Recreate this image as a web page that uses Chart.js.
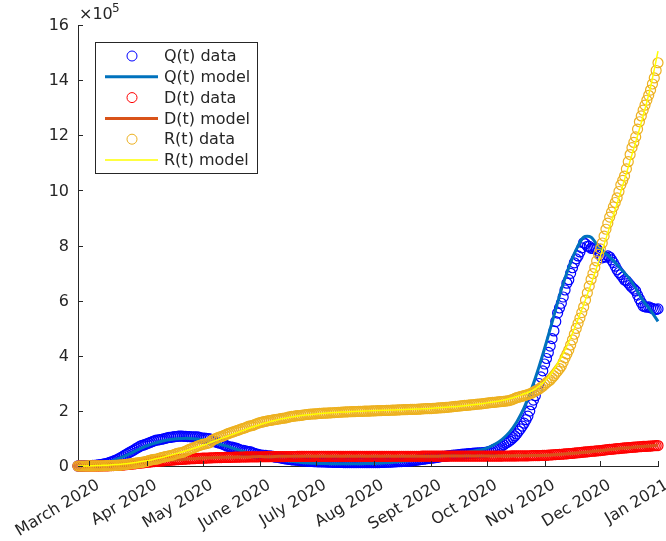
<!DOCTYPE html>
<html>
<head>
<meta charset="utf-8">
<title>Q(t), D(t), R(t) data and model</title>
<script src="https://cdn.jsdelivr.net/npm/chart.js@4.4.1/dist/chart.umd.min.js"></script>
<style>
  html, body { margin: 0; padding: 0; background: #fff; }
  canvas { display: block; }
</style>
</head>
<body>
<canvas id="chart" width="666" height="541"></canvas>
<script>
// x values are days counted from 24 Feb 2020, y values in units of 1e5
// data is daily, model curves are read every 4 days
const dataStep = 1;
const modelStep = 4;

const monthDays = [6, 37, 67, 98, 128, 159, 190, 220, 251, 281, 312];
const monthLabels = ["March 2020", "Apr 2020", "May 2020", "June 2020", "July 2020",
    "Aug 2020", "Sept 2020", "Oct 2020", "Nov 2020", "Dec 2020", "Jan 2021"];
const yTicks = [0, 2, 4, 6, 8, 10, 12, 14, 16];

const qData = [
    0.002, 0.003, 0.004, 0.006, 0.009, 0.010, 0.016, 0.018, 0.023, 0.027,
    0.035, 0.039, 0.051, 0.064, 0.080, 0.085, 0.105, 0.128, 0.147, 0.178,
    0.206, 0.231, 0.267, 0.301, 0.339, 0.385, 0.425, 0.466, 0.504, 0.540,
    0.575, 0.620, 0.661, 0.701, 0.739, 0.755, 0.777, 0.806, 0.832, 0.858,
    0.883, 0.912, 0.937, 0.944, 0.960, 0.971, 0.985, 1.003, 1.023, 1.036,
    1.042, 1.054, 1.063, 1.070, 1.081, 1.083, 1.082, 1.077, 1.075, 1.068,
    1.067, 1.058, 1.061, 1.058, 1.055, 1.047, 1.017, 1.009, 1.008, 1.002,
    0.991, 0.985, 0.911, 0.896, 0.873, 0.848, 0.833, 0.825, 0.787, 0.764,
    0.727, 0.702, 0.689, 0.684, 0.663, 0.651, 0.620, 0.593, 0.572, 0.566,
    0.553, 0.529, 0.523, 0.510, 0.479, 0.462, 0.431, 0.421, 0.397, 0.399,
    0.390, 0.384, 0.360, 0.370, 0.359, 0.347, 0.320, 0.317, 0.313, 0.290,
    0.280, 0.263, 0.256, 0.246, 0.236, 0.222, 0.217, 0.215, 0.210, 0.196,
    0.189, 0.187, 0.184, 0.176, 0.170, 0.167, 0.164, 0.156, 0.155, 0.153,
    0.151, 0.149, 0.146, 0.146, 0.144, 0.140, 0.137, 0.135, 0.133, 0.132,
    0.130, 0.129, 0.127, 0.126, 0.125, 0.125, 0.125, 0.124, 0.122, 0.122,
    0.122, 0.123, 0.124, 0.126, 0.124, 0.123, 0.124, 0.125, 0.124, 0.124,
    0.126, 0.126, 0.126, 0.129, 0.131, 0.133, 0.136, 0.138, 0.141, 0.144,
    0.149, 0.151, 0.155, 0.159, 0.160, 0.167, 0.170, 0.175, 0.180, 0.184,
    0.191, 0.197, 0.211, 0.219, 0.231, 0.240, 0.247, 0.258, 0.268, 0.275,
    0.282, 0.290, 0.302, 0.311, 0.322, 0.335, 0.346, 0.352, 0.358, 0.368,
    0.376, 0.387, 0.397, 0.400, 0.404, 0.412, 0.419, 0.428, 0.435, 0.441,
    0.446, 0.453, 0.460, 0.466, 0.470, 0.474, 0.477, 0.481, 0.487, 0.494,
    0.503, 0.520, 0.543, 0.573, 0.609, 0.630, 0.656, 0.689, 0.721, 0.768,
    0.828, 0.862, 0.905, 0.960, 1.026, 1.090, 1.166, 1.262, 1.349, 1.447,
    1.553, 1.680, 1.808, 1.993, 2.222, 2.390, 2.550, 2.760, 2.993, 3.230,
    3.450, 3.700, 3.900, 4.120, 4.350, 4.620, 4.900, 5.240, 5.550, 5.733,
    5.904, 6.131, 6.385, 6.632, 6.759, 6.991, 7.193, 7.373, 7.514, 7.620,
    7.767, 7.914, 8.100, 8.059, 7.972, 7.968, 7.897, 7.891, 7.909, 7.886,
    7.800, 7.650, 7.550, 7.600, 7.580, 7.620, 7.580, 7.480, 7.380, 7.250,
    7.120, 7.020, 6.940, 6.850, 6.750, 6.720, 6.640, 6.560, 6.480, 6.420,
    6.350, 6.200, 6.060, 5.930, 5.800, 5.780, 5.760, 5.770, 5.740, 5.720,
    5.690, 5.680, 5.700
];
const dData = [
    0.000, 0.000, 0.000, 0.000, 0.000, 0.000, 0.000, 0.001, 0.001, 0.001,
    0.001, 0.002, 0.002, 0.004, 0.005, 0.006, 0.008, 0.010, 0.013, 0.014,
    0.018, 0.022, 0.025, 0.030, 0.034, 0.041, 0.048, 0.055, 0.061, 0.068,
    0.075, 0.083, 0.091, 0.100, 0.108, 0.116, 0.124, 0.132, 0.139, 0.146,
    0.154, 0.159, 0.165, 0.171, 0.177, 0.182, 0.188, 0.194, 0.199, 0.205,
    0.211, 0.217, 0.222, 0.227, 0.232, 0.237, 0.241, 0.246, 0.251, 0.255,
    0.260, 0.263, 0.266, 0.271, 0.274, 0.277, 0.280, 0.284, 0.287, 0.289,
    0.291, 0.294, 0.297, 0.300, 0.302, 0.304, 0.306, 0.307, 0.309, 0.311,
    0.314, 0.315, 0.316, 0.318, 0.320, 0.322, 0.323, 0.325, 0.326, 0.327,
    0.328, 0.329, 0.330, 0.330, 0.331, 0.332, 0.333, 0.334, 0.335, 0.335,
    0.336, 0.337, 0.338, 0.338, 0.339, 0.339, 0.340, 0.341, 0.342, 0.342,
    0.343, 0.343, 0.344, 0.344, 0.344, 0.345, 0.345, 0.345, 0.346, 0.346,
    0.347, 0.347, 0.347, 0.347, 0.347, 0.347, 0.347, 0.348, 0.348, 0.348,
    0.349, 0.349, 0.349, 0.349, 0.350, 0.350, 0.350, 0.350, 0.351, 0.351,
    0.351, 0.351, 0.351, 0.351, 0.351, 0.351, 0.352, 0.352, 0.352, 0.352,
    0.352, 0.352, 0.352, 0.352, 0.352, 0.352, 0.352, 0.352, 0.352, 0.352,
    0.352, 0.352, 0.352, 0.352, 0.352, 0.352, 0.352, 0.352, 0.352, 0.353,
    0.353, 0.353, 0.353, 0.353, 0.354, 0.354, 0.354, 0.354, 0.354, 0.354,
    0.354, 0.354, 0.354, 0.354, 0.354, 0.355, 0.355, 0.355, 0.355, 0.355,
    0.355, 0.355, 0.355, 0.356, 0.356, 0.356, 0.356, 0.356, 0.356, 0.357,
    0.357, 0.357, 0.357, 0.357, 0.357, 0.357, 0.357, 0.358, 0.358, 0.358,
    0.358, 0.358, 0.358, 0.359, 0.359, 0.359, 0.359, 0.359, 0.359, 0.360,
    0.360, 0.360, 0.360, 0.360, 0.360, 0.361, 0.361, 0.361, 0.361, 0.362,
    0.362, 0.363, 0.363, 0.364, 0.364, 0.365, 0.365, 0.366, 0.366, 0.367,
    0.368, 0.369, 0.370, 0.372, 0.373, 0.375, 0.376, 0.377, 0.379, 0.381,
    0.383, 0.386, 0.389, 0.394, 0.399, 0.403, 0.408, 0.413, 0.418, 0.423,
    0.427, 0.432, 0.437, 0.443, 0.448, 0.454, 0.460, 0.467, 0.474, 0.481,
    0.487, 0.494, 0.501, 0.509, 0.516, 0.523, 0.530, 0.536, 0.542, 0.547,
    0.553, 0.560, 0.569, 0.578, 0.587, 0.594, 0.601, 0.607, 0.613, 0.620,
    0.627, 0.634, 0.640, 0.647, 0.654, 0.660, 0.665, 0.671, 0.677, 0.683,
    0.688, 0.694, 0.699, 0.705, 0.709, 0.712, 0.715, 0.718, 0.722, 0.729,
    0.735, 0.739, 0.742
];
const rData = [
    0.000, 0.000, 0.000, 0.000, 0.000, 0.001, 0.001, 0.001, 0.002, 0.003,
    0.004, 0.005, 0.006, 0.006, 0.007, 0.010, 0.010, 0.012, 0.014, 0.018,
    0.023, 0.027, 0.029, 0.035, 0.044, 0.050, 0.061, 0.070, 0.074, 0.084,
    0.094, 0.103, 0.110, 0.120, 0.130, 0.141, 0.157, 0.168, 0.198, 0.215,
    0.228, 0.240, 0.244, 0.265, 0.285, 0.303, 0.325, 0.340, 0.354, 0.368,
    0.381, 0.400, 0.427, 0.448, 0.471, 0.478, 0.489, 0.516, 0.545, 0.575,
    0.605, 0.632, 0.649, 0.687, 0.713, 0.738, 0.759, 0.783, 0.799, 0.815,
    0.829, 0.850, 0.932, 0.960, 0.990, 1.022, 1.052, 1.069, 1.090, 1.123,
    1.153, 1.182, 1.202, 1.227, 1.252, 1.274, 1.294, 1.322, 1.346, 1.364,
    1.388, 1.419, 1.447, 1.458, 1.471, 1.503, 1.528, 1.556, 1.575, 1.590,
    1.609, 1.620, 1.638, 1.650, 1.658, 1.674, 1.686, 1.695, 1.706, 1.720,
    1.731, 1.739, 1.749, 1.770, 1.785, 1.797, 1.805, 1.816, 1.825, 1.829,
    1.834, 1.851, 1.859, 1.869, 1.876, 1.883, 1.886, 1.889, 1.892, 1.902,
    1.907, 1.912, 1.915, 1.918, 1.921, 1.925, 1.928, 1.932, 1.936, 1.941,
    1.946, 1.950, 1.954, 1.959, 1.962, 1.966, 1.968, 1.971, 1.974, 1.976,
    1.978, 1.981, 1.983, 1.985, 1.988, 1.989, 1.990, 1.994, 1.998, 2.000,
    2.002, 2.006, 2.008, 2.011, 2.013, 2.014, 2.016, 2.019, 2.022, 2.024,
    2.027, 2.030, 2.033, 2.037, 2.040, 2.042, 2.045, 2.048, 2.050, 2.051,
    2.052, 2.055, 2.058, 2.060, 2.063, 2.070, 2.077, 2.080, 2.082, 2.083,
    2.085, 2.090, 2.096, 2.102, 2.108, 2.112, 2.115, 2.119, 2.124, 2.132,
    2.140, 2.146, 2.153, 2.160, 2.168, 2.176, 2.184, 2.190, 2.197, 2.202,
    2.207, 2.215, 2.222, 2.230, 2.237, 2.243, 2.249, 2.257, 2.265, 2.273,
    2.281, 2.291, 2.300, 2.306, 2.312, 2.320, 2.327, 2.334, 2.341, 2.347,
    2.353, 2.362, 2.375, 2.397, 2.420, 2.451, 2.479, 2.497, 2.515, 2.532,
    2.550, 2.573, 2.595, 2.616, 2.641, 2.682, 2.720, 2.756, 2.793, 2.845,
    2.894, 2.958, 3.023, 3.070, 3.123, 3.197, 3.274, 3.361, 3.445, 3.535,
    3.630, 3.770, 3.926, 4.066, 4.208, 4.390, 4.578, 4.780, 4.990, 5.175,
    5.366, 5.565, 5.768, 6.020, 6.282, 6.525, 6.768, 6.980, 7.199, 7.440,
    7.679, 7.880, 8.090, 8.340, 8.590, 8.810, 9.030, 9.210, 9.400, 9.560,
    9.730, 9.960, 10.20, 10.36, 10.52, 10.78, 11.04, 11.30, 11.55, 11.74,
    11.94, 12.22, 12.49, 12.70, 12.91, 13.09, 13.27, 13.45, 13.64, 13.86,
    14.08, 14.35, 14.63
];

const qModel = [
    0.00, 0.01, 0.03, 0.07, 0.13, 0.22, 0.33, 0.45, 0.58, 0.70,
    0.80, 0.88, 0.94, 0.98, 1.00, 1.00, 0.98, 0.94, 0.88, 0.80,
    0.72, 0.63, 0.55, 0.47, 0.40, 0.33, 0.28, 0.23, 0.19, 0.16,
    0.13, 0.11, 0.10, 0.09, 0.08, 0.08, 0.08, 0.08, 0.08, 0.09,
    0.10, 0.11, 0.13, 0.15, 0.18, 0.21, 0.25, 0.29, 0.33, 0.37,
    0.41, 0.45, 0.49, 0.53, 0.58, 0.65, 0.78, 0.96, 1.22, 1.60,
    2.12, 2.80, 3.60, 4.50, 5.45, 6.40, 7.20, 7.85, 8.30, 8.30,
    7.95, 7.70, 7.45, 7.15, 6.85, 6.45, 6.00, 5.65, 5.25
];
const dModel = [
    0.00, 0.00, 0.00, 0.01, 0.02, 0.03, 0.05, 0.07, 0.10, 0.12,
    0.15, 0.17, 0.20, 0.22, 0.24, 0.26, 0.27, 0.29, 0.30, 0.31,
    0.32, 0.32, 0.33, 0.33, 0.34, 0.34, 0.34, 0.35, 0.35, 0.35,
    0.35, 0.35, 0.35, 0.35, 0.35, 0.35, 0.35, 0.35, 0.35, 0.35,
    0.35, 0.35, 0.35, 0.35, 0.35, 0.355, 0.355, 0.355, 0.355, 0.36,
    0.36, 0.36, 0.36, 0.36, 0.36, 0.36, 0.36, 0.365, 0.365, 0.37,
    0.37, 0.38, 0.38, 0.39, 0.41, 0.43, 0.45, 0.47, 0.50, 0.52,
    0.55, 0.58, 0.61, 0.64, 0.66, 0.69, 0.71, 0.73, 0.75
];
const rModel = [
    0.00, 0.00, 0.01, 0.02, 0.03, 0.05, 0.07, 0.10, 0.14, 0.18,
    0.23, 0.29, 0.36, 0.43, 0.51, 0.59, 0.68, 0.77, 0.87, 0.97,
    1.07, 1.17, 1.27, 1.37, 1.46, 1.55, 1.62, 1.69, 1.74, 1.79,
    1.83, 1.86, 1.89, 1.91, 1.93, 1.95, 1.96, 1.98, 1.99, 2.00,
    2.01, 2.02, 2.03, 2.04, 2.05, 2.06, 2.07, 2.08, 2.10, 2.12,
    2.14, 2.16, 2.19, 2.22, 2.25, 2.29, 2.33, 2.38, 2.44, 2.52,
    2.62, 2.72, 2.90, 3.15, 3.50, 3.95, 4.50, 5.15, 5.85, 6.60,
    7.40, 8.25, 9.10, 9.95, 10.85, 11.75, 12.70, 13.75, 15.05
];

const axisColor = "#262626";
const fontFamily = "'DejaVu Sans', sans-serif";

const toPoints = (values, step) => values.map((v, i) => ({ x: i * step, y: v }));

const markerSet = (label, values, color, order) => ({
    label: label,
    data: toPoints(values, dataStep),
    showLine: false,
    borderColor: color,
    backgroundColor: "rgba(0,0,0,0)",
    pointStyle: "circle",
    pointRadius: 5,
    pointBorderWidth: 1.2,
    clip: false,
    order: order,
});

const lineSet = (label, values, color, width, order) => ({
    label: label,
    data: toPoints(values, modelStep),
    showLine: true,
    borderColor: color,
    backgroundColor: color,
    borderWidth: width,
    pointRadius: 0,
    tension: 0.3,
    clip: false,
    order: order,
});

// MATLAB style inward ticks, tick labels, exponent and legend box
const matlabAxes = {
    id: "matlabAxes",
    afterDatasetsDraw(chart) {
        const { ctx, chartArea: a, scales: { x, y } } = chart;
        ctx.save();
        ctx.strokeStyle = axisColor;
        ctx.lineWidth = 1;
        ctx.beginPath();
        monthDays.forEach((d) => {
            const px = Math.round(x.getPixelForValue(d)) + 0.5;
            ctx.moveTo(px, a.bottom);
            ctx.lineTo(px, a.bottom - 5);
        });
        yTicks.forEach((v) => {
            const py = Math.round(y.getPixelForValue(v)) + 0.5;
            ctx.moveTo(a.left, py);
            ctx.lineTo(a.left + 5, py);
        });
        ctx.stroke();

        ctx.fillStyle = axisColor;
        ctx.font = "16px " + fontFamily;
        ctx.textAlign = "right";
        ctx.textBaseline = "middle";
        yTicks.forEach((v) => {
            ctx.fillText(String(v), a.left - 9, y.getPixelForValue(v) + 1);
        });

        ctx.textBaseline = "top";
        monthDays.forEach((d, i) => {
            const px = x.getPixelForValue(d);
            ctx.save();
            ctx.translate(px + 5, a.bottom + 11);
            ctx.rotate((-31 * Math.PI) / 180);
            ctx.fillText(monthLabels[i], 0, 0);
            ctx.restore();
        });

        ctx.textAlign = "left";
        ctx.textBaseline = "alphabetic";
        ctx.font = "16px " + fontFamily;
        ctx.fillText("\u00d710", a.left + 1, a.top - 6);
        ctx.font = "12px " + fontFamily;
        ctx.fillText("5", a.left + 34, a.top - 13);
        ctx.restore();
    },
    afterDraw(chart) {
        const { ctx, chartArea: a } = chart;
        const bx = a.left + 17, by = a.top + 17, bw = 162, bh = 131;
        ctx.save();
        ctx.fillStyle = "#ffffff";
        ctx.fillRect(bx, by, bw, bh);
        ctx.strokeStyle = axisColor;
        ctx.lineWidth = 1;
        ctx.strokeRect(bx + 0.5, by + 0.5, bw, bh);
        ctx.font = "16px " + fontFamily;
        ctx.textAlign = "left";
        ctx.textBaseline = "middle";
        chart.data.datasets.forEach((ds, i) => {
            const cy = by + 14 + i * 20.8;
            ctx.strokeStyle = ds.borderColor;
            ctx.beginPath();
            if (ds.showLine) {
                ctx.lineWidth = ds.borderWidth;
                ctx.moveTo(bx + 10, cy);
                ctx.lineTo(bx + 63, cy);
            } else {
                ctx.lineWidth = 1;
                ctx.arc(bx + 37, cy, 5, 0, Math.PI * 2);
            }
            ctx.stroke();
            ctx.fillStyle = axisColor;
            ctx.fillText(ds.label, bx + 69, cy + 1);
        });
        ctx.restore();
    },
};

new Chart(document.getElementById("chart"), {
    type: "scatter",
    data: {
        datasets: [
            markerSet("Q(t) data", qData, "#0000ff", 6),
            lineSet("Q(t) model", qModel, "#0072bd", 3, 5),
            markerSet("D(t) data", dData, "#ff0000", 4),
            lineSet("D(t) model", dModel, "#d95319", 3, 3),
            markerSet("R(t) data", rData, "#edb120", 2),
            lineSet("R(t) model", rModel, "#ffff00", 1.5, 1),
        ],
    },
    options: {
        responsive: false,
        animation: false,
        events: [],
        layout: { padding: { left: 78, top: 25, right: 8, bottom: 75 } },
        plugins: { legend: { display: false }, tooltip: { enabled: false } },
        scales: {
            x: {
                type: "linear",
                min: 0,
                max: 312,
                grid: { display: false, drawTicks: false },
                border: { display: true, color: axisColor, width: 1 },
                ticks: { display: false },
            },
            y: {
                type: "linear",
                min: 0,
                max: 16,
                grid: { display: false, drawTicks: false },
                border: { display: true, color: axisColor, width: 1 },
                ticks: { display: false },
            },
        },
    },
    plugins: [matlabAxes],
});
</script>
</body>
</html>
